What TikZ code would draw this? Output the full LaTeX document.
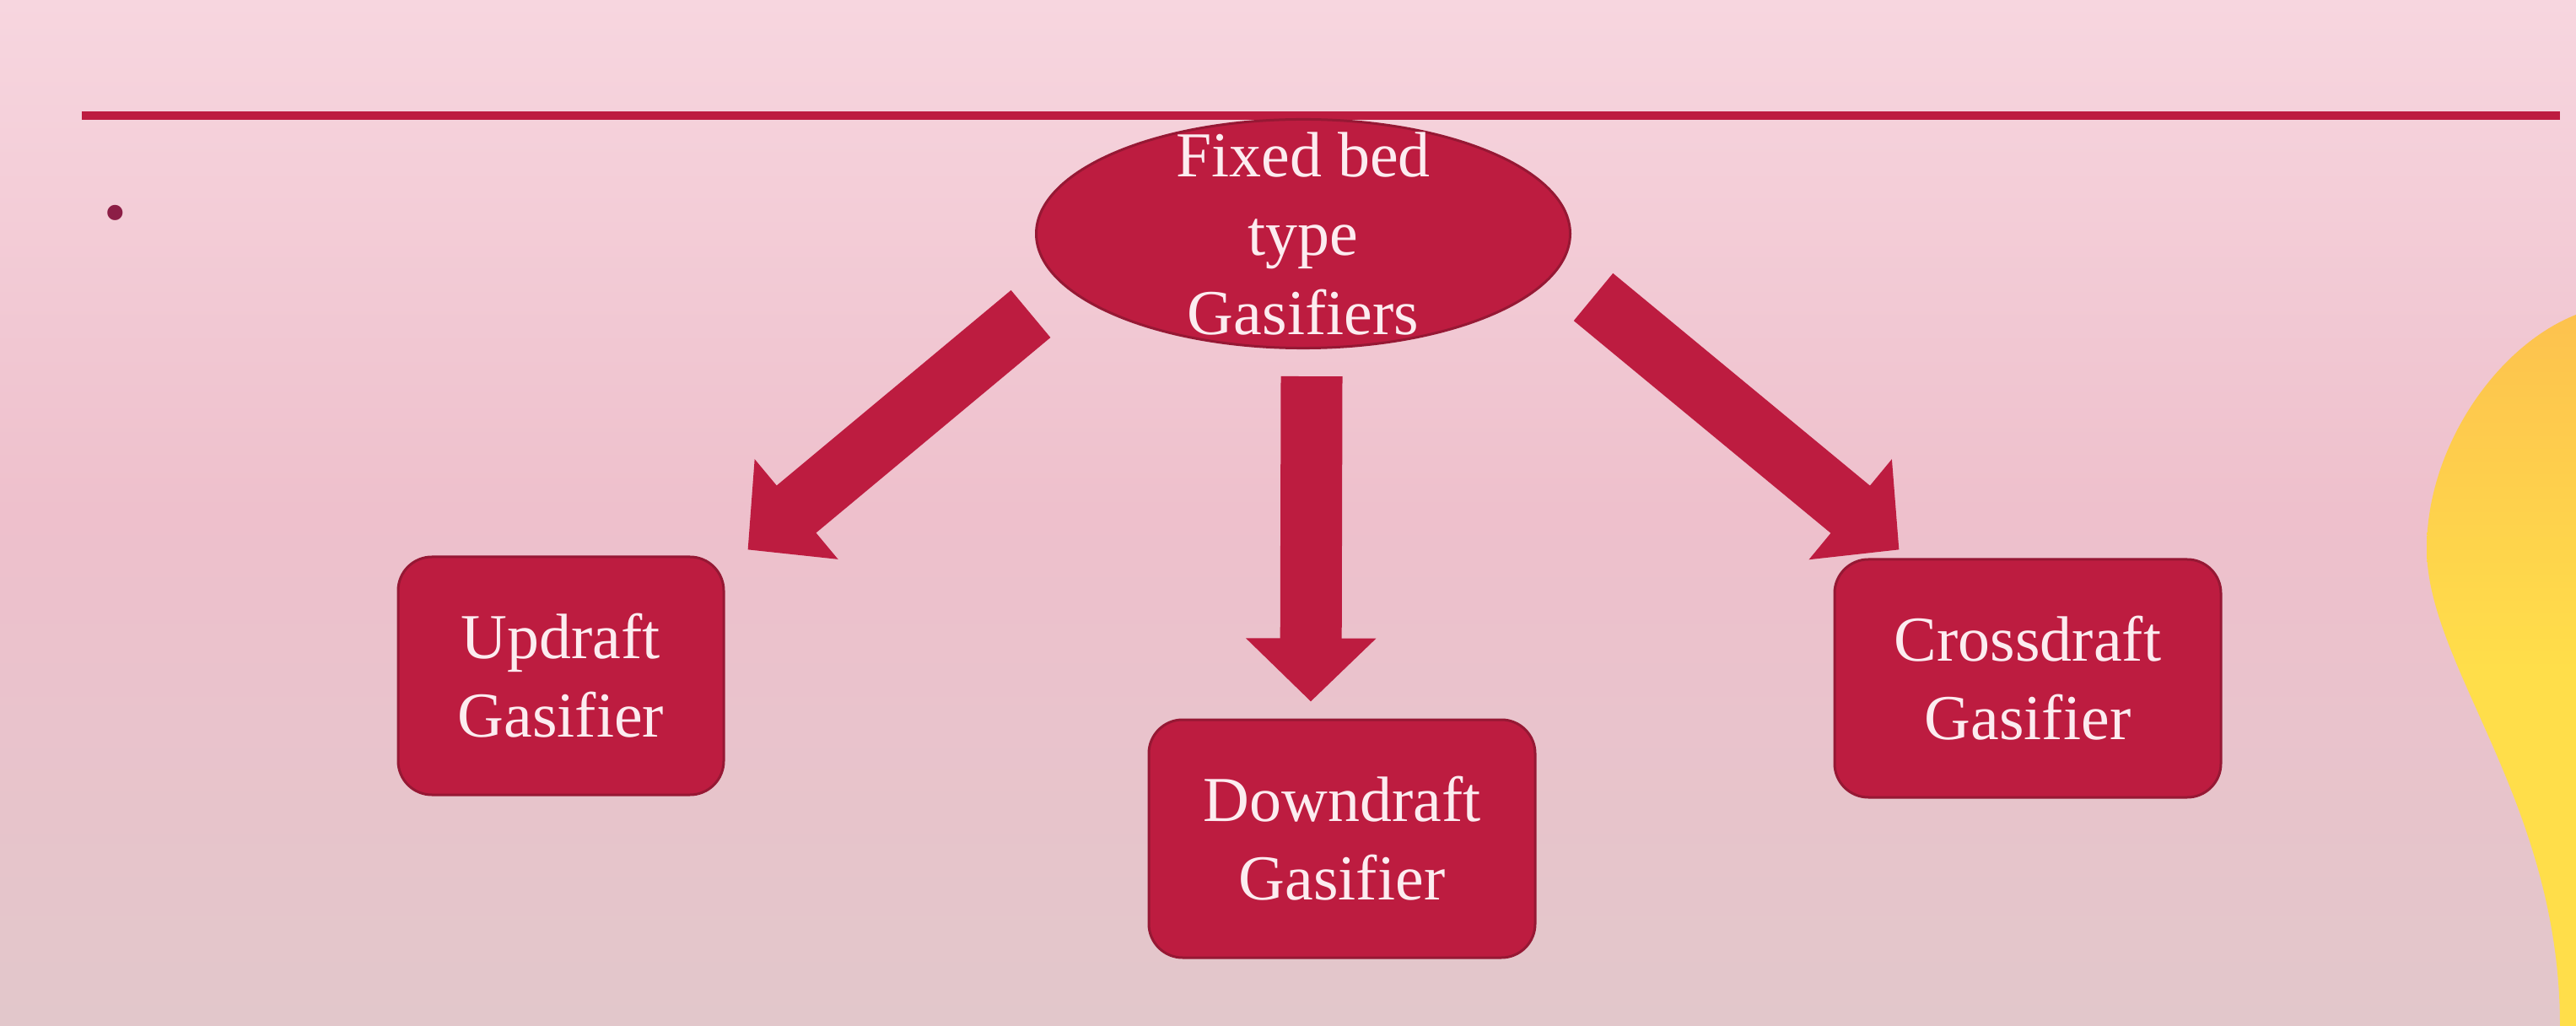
\documentclass[tikz,border=0pt]{standalone}
\usepackage{fontspec}
\setmainfont{Liberation Serif}
\usetikzlibrary{arrows.meta,shapes.geometric}
\definecolor{gasred}{RGB}{189,28,64}
\definecolor{gasedge}{RGB}{150,24,52}
\definecolor{gastext}{RGB}{252,236,240}
\definecolor{bgtop}{RGB}{247,214,223}
\definecolor{bgmid}{RGB}{238,192,204}
\definecolor{bgbot}{RGB}{226,199,203}
\definecolor{sunorange}{RGB}{253,194,78}
\definecolor{sunyellow}{RGB}{255,222,74}
\definecolor{dotred}{RGB}{140,30,70}

\begin{document}
\begin{tikzpicture}
    \tikzstyle{gasbox}=[rectangle,rounded corners=0.4cm,fill=gasred,draw=gasedge,line width=0.03cm,text=gastext,align=center,font=\fontsize{21.6}{26.5}\selectfont,minimum height=2.82cm,inner sep=0pt]
    \tikzstyle{gasroot}=[ellipse,fill=gasred,draw=gasedge,line width=0.03cm,text=gastext,align=center,font=\fontsize{21.6}{26.5}\selectfont,minimum width=6.33cm,minimum height=2.71cm,inner xsep=0pt,inner ysep=-0.24cm]
    \tikzstyle{bigarrow}=[line width=0.73cm,draw=gasred,-{Triangle[width=1.5cm,length=0.75cm]}]

    \useasboundingbox (0,0) rectangle (30.54,-12.16);
    \shade[top color=bgtop,bottom color=bgbot,middle color=bgmid] (0,0) rectangle (30.54,-12.16);
    \shade[top color=sunorange,bottom color=sunyellow,middle color=sunyellow] (30.54,-3.73) .. controls (29.6,-4.1) and (28.77,-5.3) .. (28.77,-6.5) .. controls (28.77,-7.9) and (30.35,-9.5) .. (30.35,-12.16) -- (30.54,-12.16) -- cycle;

    \draw[gasred,line width=0.1cm] (0.97,-1.37) -- (30.35,-1.37);
    \node[text=dotred,font=\fontsize{21.6}{26.5}\selectfont,inner sep=0pt] (bullet) at (1.37,-2.6) {\textbullet};

    \node[gasroot] (fixed) at (15.45,-2.77) {Fixed bed\\type\\Gasifiers};
    \node[gasbox,minimum width=3.86cm] (updraft) at (6.65,-8.01) {Updraft\\Gasifier};
    \node[gasbox,minimum width=4.58cm] (downdraft) at (15.91,-9.94) {Downdraft\\Gasifier};
    \node[gasbox,minimum width=4.58cm] (crossdraft) at (24.04,-8.04) {Crossdraft\\Gasifier};

    \draw[bigarrow] ([shift={(-3.23,-0.95)}]fixed.center) -- ([shift={(0.27,0.07)}]updraft.north east);
    \draw[bigarrow] ([shift={(0.1,-0.32)}]fixed.south) -- ([shift={(-0.37,0.2)}]downdraft.north);
    \draw[bigarrow] ([shift={(3.44,-0.75)}]fixed.center) -- ([shift={(0.78,0.10)}]crossdraft.north west);
\end{tikzpicture}
\end{document}
